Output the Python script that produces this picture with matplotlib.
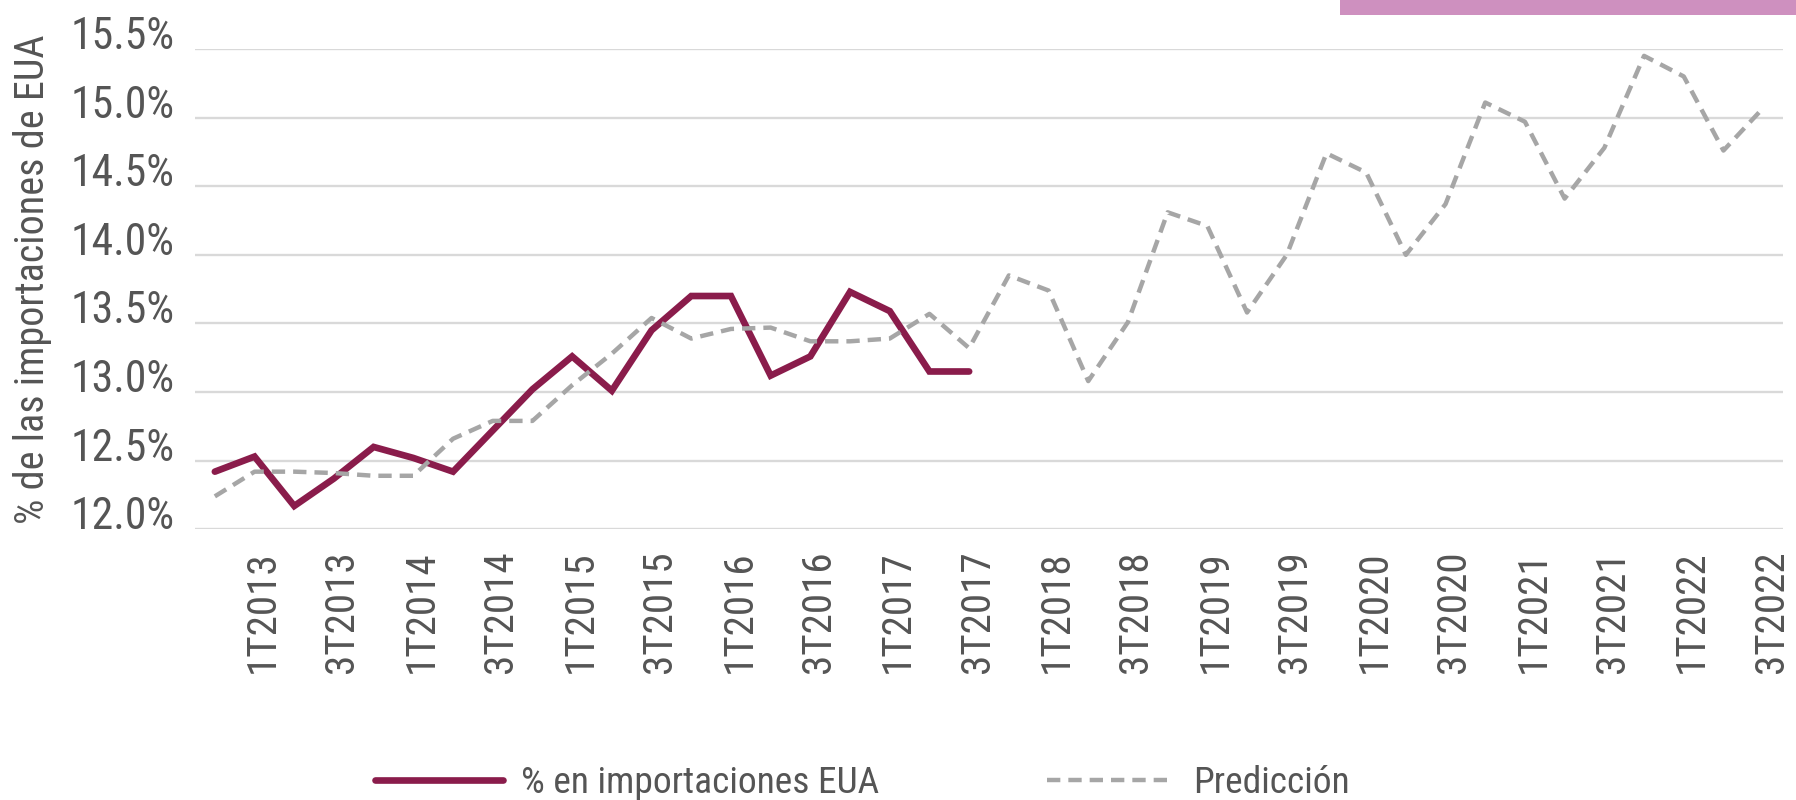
import numpy as np
import matplotlib
matplotlib.use("Agg")
import matplotlib.pyplot as plt
from matplotlib import font_manager as fm
from matplotlib.textpath import TextPath
from matplotlib.ft2font import FT2Font
from matplotlib.ticker import FuncFormatter
from matplotlib.patches import Rectangle
from matplotlib.lines import Line2D
import matplotlib.transforms as mtransforms

# ---------------- data ----------------
quarters = ["4T2012",
            "1T2013", "2T2013", "3T2013", "4T2013",
            "1T2014", "2T2014", "3T2014", "4T2014",
            "1T2015", "2T2015", "3T2015", "4T2015",
            "1T2016", "2T2016", "3T2016", "4T2016",
            "1T2017", "2T2017", "3T2017", "4T2017",
            "1T2018", "2T2018", "3T2018", "4T2018",
            "1T2019", "2T2019", "3T2019", "4T2019",
            "1T2020", "2T2020", "3T2020", "4T2020",
            "1T2021", "2T2021", "3T2021", "4T2021",
            "1T2022", "2T2022", "3T2022"]

importaciones = [12.42, 12.53, 12.17, 12.37, 12.60, 12.52, 12.42, 12.72,
                 13.02, 13.26, 13.01, 13.45, 13.70, 13.70, 13.12, 13.26,
                 13.73, 13.59, 13.15, 13.15]

prediccion = [12.24, 12.42, 12.42, 12.41, 12.39, 12.39, 12.66, 12.79,
              12.79, 13.05, 13.28, 13.54, 13.39, 13.46, 13.47, 13.37,
              13.37, 13.39, 13.57, 13.32, 13.85, 13.74, 13.08, 13.51,
              14.31, 14.21, 13.58, 14.00, 14.74, 14.60, 14.00, 14.37,
              15.11, 14.97, 14.41, 14.78, 15.45, 15.30, 14.76, 15.07]

y_ticks = [12.0, 12.5, 13.0, 13.5, 14.0, 14.5, 15.0, 15.5]
label_real = "% en importaciones EUA"
label_pred = "Predicción"
y_title = "% de las importaciones de EUA"

# ---------------- font choice (narrowest fitting installed sans) ----------------
BASES = ["DejaVu Sans", "Liberation Sans", "Noto Sans", "Roboto", "Open Sans", "Lato", "Inter"]


def allowed(name):
    if name in BASES or name == "Liberation Sans Narrow":
        return True
    for b in BASES:
        if name.startswith(b + " ") and ("Condensed" in name or "Narrow" in name):
            return True
    return False


def weight_num(w):
    if isinstance(w, str):
        return {"normal": 400, "regular": 400, "book": 400, "medium": 500}.get(w.lower(), 400)
    return w


def has_glyphs(fname, chars="%óEUA1T20"):
    try:
        f = FT2Font(fname)
        return all(f.get_char_index(ord(c)) != 0 for c in chars)
    except Exception:
        return False


target_ratio = 110.0 / 33.0
best = None
for fe in fm.fontManager.ttflist:
    if not fe.fname.lower().endswith((".ttf", ".otf")):
        continue
    wn = weight_num(fe.weight)
    if not allowed(fe.name) or fe.style != "normal" or not (350 <= wn <= 520):
        continue
    if not has_glyphs(fe.fname):
        continue
    try:
        fp = fm.FontProperties(fname=fe.fname)
        w = TextPath((0, 0), "1T2013", size=100, prop=fp).get_extents().width
        h = TextPath((0, 0), "H", size=100, prop=fp).get_extents().height
    except Exception:
        continue
    score = (round(abs(w / h - target_ratio), 1), abs(wn - 500))
    if best is None or score < best[0]:
        best = (score, fe.fname)

if best is not None:
    FP = fm.FontProperties(fname=best[1])
else:
    FP = fm.FontProperties(family="DejaVu Sans")

DPI = 100
W, H = 1796, 800


def fit_size(text, target_len, target_cap, slack=1.0):
    L = TextPath((0, 0), text, size=100, prop=FP).get_extents().width
    cap = TextPath((0, 0), "H", size=100, prop=FP).get_extents().height
    px = min(100.0 * target_cap / cap, 100.0 * target_len / L * slack)
    return px * 72.0 / DPI


def fprop(size):
    p = FP.copy()
    p.set_size(size)
    return p


xt_size = fit_size("1T2013", 110, 33, slack=1.06)
yt_size = fit_size("15.5%", 94, 32, slack=1.05)
ttl_size = fit_size(y_title, 486, 40)
leg_size = fit_size(label_real, 356, 40)

TEXT = "#555555"
REAL_C = "#8A1C4B"
PRED_C = "#A6A6A6"
GRID_C = "#D9D9D9"

# ---------------- figure ----------------
fig = plt.figure(figsize=(W / DPI, H / DPI), dpi=DPI)
fig.patch.set_facecolor("white")

left, right, top, bottom = 195, 1783, 49.0, 529.3
ax = fig.add_axes([left / W, 1 - bottom / H, (right - left) / W, (bottom - top) / H])

x = np.arange(len(quarters))
ax.plot(x[:len(importaciones)], importaciones, color=REAL_C, lw=4.8,
        solid_capstyle="round", solid_joinstyle="miter", zorder=3)
ax.plot(x[:len(prediccion)], prediccion, color=PRED_C, lw=3.2,
        linestyle=(0, (3.0, 1.8)), zorder=4)

ax.set_xlim(-0.5, len(quarters) - 0.5)
ax.set_ylim(y_ticks[0], y_ticks[-1])

ax.set_yticks(y_ticks)
ax.yaxis.set_major_formatter(FuncFormatter(lambda v, p: f"{v:.1f}%"))
ax.set_xticks(x[1::2])
ax.set_xticklabels([quarters[i] for i in x[1::2]], rotation=90)

ax.yaxis.grid(True, color=GRID_C, lw=1.7)
ax.xaxis.grid(False)
ax.set_axisbelow(True)
for s in ax.spines.values():
    s.set_visible(False)
ax.tick_params(axis="both", length=0, colors=TEXT)
ax.tick_params(axis="y", pad=14.5)
ax.tick_params(axis="x", pad=15.5)

for lab in ax.get_yticklabels():
    lab.set_fontproperties(fprop(yt_size))
    lab.set_color(TEXT)
    lab.set_va("baseline")

off = mtransforms.ScaledTranslation(8 / DPI, 0, fig.dpi_scale_trans)
for lab in ax.get_xticklabels():
    lab.set_fontproperties(fprop(xt_size))
    lab.set_color(TEXT)
    lab.set_transform(lab.get_transform() + off)

# y axis title
fig.text(33 / W, 1 - 279 / H, y_title, rotation=90, ha="center", va="center",
         color=TEXT, fontproperties=fprop(ttl_size))

# legend
handles = [Line2D([], [], color=REAL_C, lw=4.8, solid_capstyle="round"),
           Line2D([], [], color=PRED_C, lw=3.2, linestyle=(0, (3.0, 1.8)))]
leg_px = leg_size * DPI / 72.0
leg = fig.legend(handles, [label_real, label_pred], loc="center left",
                 bbox_to_anchor=(375 / W, 1 - 783 / H), ncol=2, frameon=False,
                 prop=fprop(leg_size), handlelength=128 / leg_px,
                 handletextpad=18 / leg_px, columnspacing=168 / leg_px,
                 borderpad=0, borderaxespad=0)
for t in leg.get_texts():
    t.set_color(TEXT)

# decorative band top right
fig.patches.append(Rectangle((1340 / W, 1 - 15 / H), (W - 1340) / W, 15 / H,
                             transform=fig.transFigure, facecolor="#CE90BF",
                             edgecolor="none", zorder=5))

fig.savefig("out.png", dpi=DPI, facecolor="white")
